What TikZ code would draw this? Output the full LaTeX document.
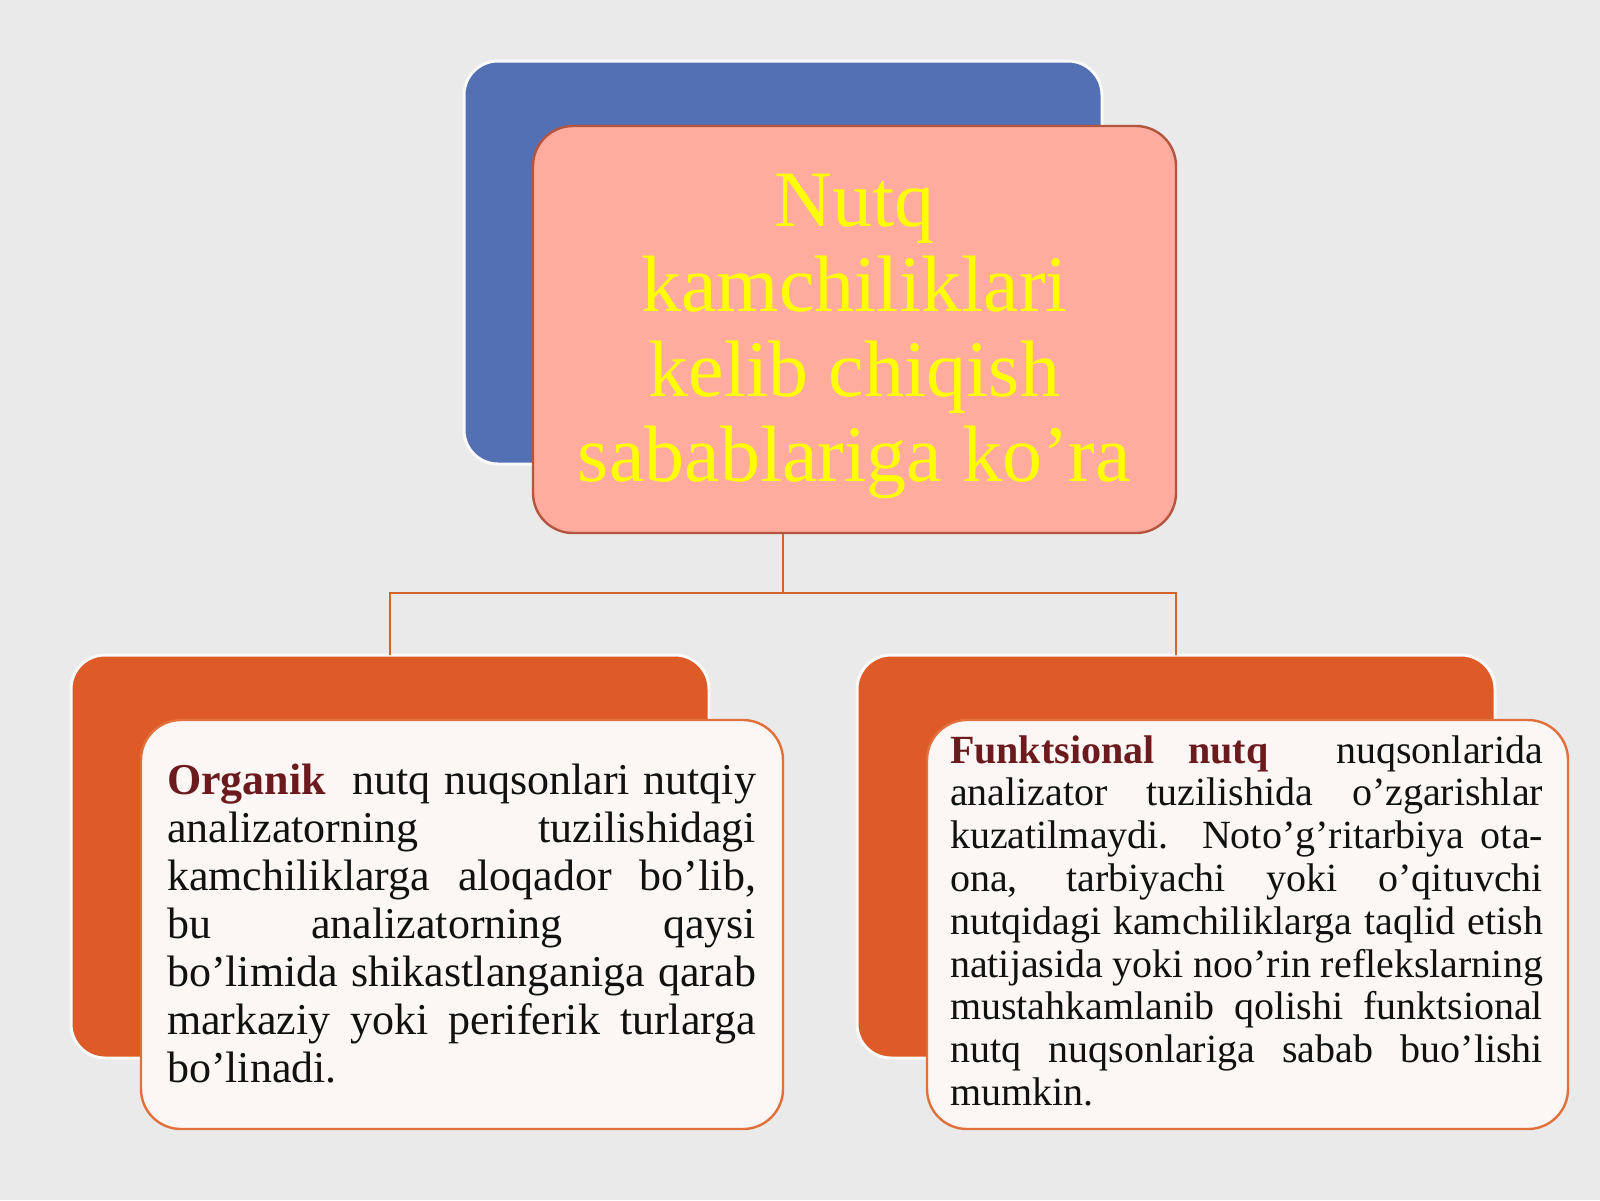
\documentclass[tikz,border=0pt]{standalone}
\usepackage{fontspec}
\setmainfont{Liberation Serif}
\definecolor{bg}{HTML}{EAEAEA}
\definecolor{blueb}{HTML}{5470B4}
\definecolor{pinkb}{HTML}{FFAC9F}
\definecolor{pinkedge}{HTML}{B4553F}
\definecolor{orangeb}{HTML}{DE5A26}
\definecolor{lineor}{HTML}{D2642C}
\definecolor{whiteedge}{HTML}{E2703C}
\definecolor{whitefill}{HTML}{FCF7F5}
\definecolor{maroon}{HTML}{6B1A1E}
\definecolor{titley}{HTML}{FFFF00}
\definecolor{bodyk}{HTML}{111111}
\newcommand{\jl}[1]{\hbox to \hsize{#1}}
\begin{document}
\begin{tikzpicture}[x=0.5pt,y=-0.5pt,
  backbox/.style={rectangle, rounded corners=17pt, inner sep=0pt, outer sep=0pt, draw=white!70!bg, line width=1.5pt},
  frontbox/.style={rectangle, rounded corners=20pt, inner sep=0pt, outer sep=0pt, line width=1.2pt},
  whitebox/.style={frontbox, fill=whitefill, draw=whiteedge},
  conn/.style={draw=lineor, line width=1.3pt},
  txt/.style={inner sep=0pt, outer sep=0pt}]
\fill[bg] (0,0) rectangle (1600,1200);
\useasboundingbox (0,0) rectangle (1600,1200);
% back boxes
\node[backbox, fill=blueb, minimum width=319pt, minimum height=201.5pt] (blue) at (783,262.5) {};
\node[backbox, fill=orangeb, minimum width=319pt, minimum height=201.5pt] (lorange) at (390,856.5) {};
\node[backbox, fill=orangeb, minimum width=319pt, minimum height=201.5pt] (rorange) at (1176,856.5) {};
% connectors
\coordinate (j) at (783,593);
\draw[conn] (blue.south) -- (j);
\draw[conn] (j) -| (lorange.north);
\draw[conn] (j) -| (rorange.north);
% front boxes
\node[frontbox, fill=pinkb, draw=pinkedge, minimum width=321.5pt, minimum height=203.5pt] (pink) at (854.5,329.5) {};
\node[whitebox, minimum width=321pt, minimum height=204.5pt] (lwhite) at (462,924.5) {};
\node[whitebox, minimum width=320.5pt, minimum height=204.5pt] (rwhite) at (1247.5,924.5) {};
% title
\node[txt, anchor=base, text=titley] (title) at (854.5,226) {\parbox[t]{320pt}{\centering\fontsize{40pt}{42.5pt}\selectfont Nutq\\kamchiliklari\\kelib chiqish\\sabablariga ko’ra}};
% left text
\node[txt, anchor=base west, text=bodyk] (ltext) at (167,794) {\parbox[t]{294.5pt}{\fontsize{22pt}{24pt}\selectfont
\jl{{\bfseries\color{maroon}Organik}\ \ nutq nuqsonlari nutqiy}
\jl{analizatorning tuzilishidagi}
\jl{kamchiliklarga aloqador bo’lib,}
\jl{bu analizatorning qaysi}
\jl{bo’limida shikastlanganiga qarab}
\jl{markaziy yoki periferik turlarga}
\hbox{bo’linadi.}}};
% right text
\node[txt, anchor=base west, text=bodyk] (rtext) at (950,763) {\parbox[t]{296.5pt}{\fontsize{20pt}{21.4pt}\selectfont
\jl{{\bfseries\color{maroon}Funktsional nutq}\ \ nuqsonlarida}
\jl{analizator tuzilishida o’zgarishlar}
\jl{kuzatilmaydi. Noto’g’ritarbiya ota-}
\jl{ona, tarbiyachi yoki o’qituvchi}
\jl{nutqidagi kamchiliklarga taqlid etish}
\jl{natijasida yoki noo’rin reflekslarning}
\jl{mustahkamlanib qolishi funktsional}
\jl{nutq nuqsonlariga sabab buo’lishi}
\hbox{mumkin.}}};
\end{tikzpicture}
\end{document}
